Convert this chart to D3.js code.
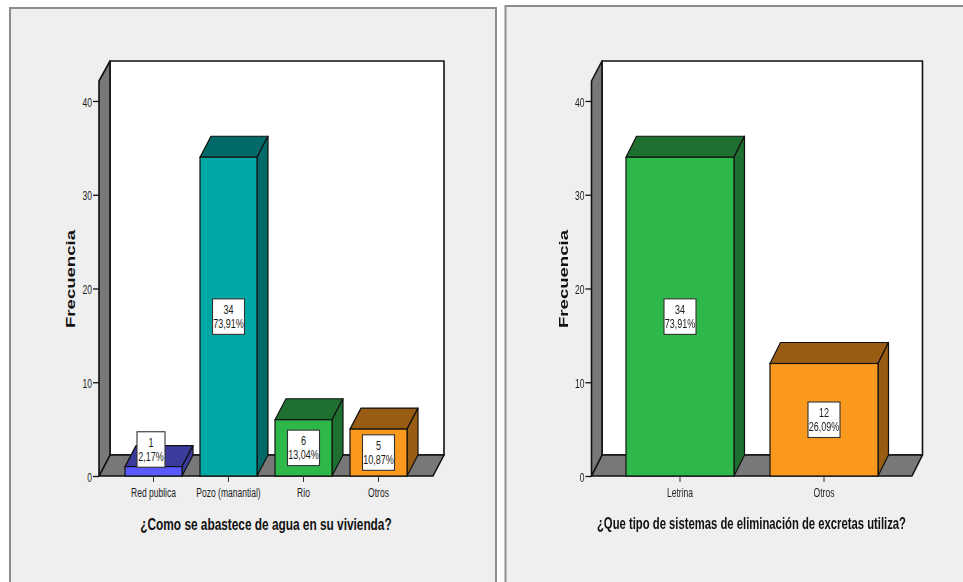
<!DOCTYPE html>
<html><head><meta charset="utf-8">
<script src="https://cdn.jsdelivr.net/npm/d3@7"></script>
<style>
html,body{margin:0;padding:0;background:#fff;overflow:hidden}
svg{display:block;filter:blur(0.4px)}
text{fill:#1c1c1c}
.tick text{font-family:"Liberation Sans",sans-serif;font-size:12.5px}
.lab{font-family:"Liberation Sans",sans-serif;font-size:12.5px}
.xt{font-family:"Liberation Sans",sans-serif;font-size:16px;font-weight:bold;fill:#111}
.yt{font-family:"Liberation Sans",sans-serif;font-size:12px;font-weight:bold;fill:#111}
</style></head><body>
<svg id="c" width="963" height="582"></svg>
<script>
const tickValues = [0, 10, 20, 30, 40];
const yAxisTitle = "Frecuencia";

const categoriesA = ["Red publica", "Pozo (manantial)", "Rio", "Otros"];
const valuesA = [1, 34, 6, 5];
const percentsA = ["2,17%", "73,91%", "13,04%", "10,87%"];
const frontColorsA = ["#5a5aff", "#00a8a5", "#2fb84a", "#fb991e"];
const darkColorsA = ["#3b3b9e", "#006a68", "#1d7030", "#985c12"];
const titleA = "¿Como se abastece de agua en su vivienda?";

const categoriesB = ["Letrina", "Otros"];
const valuesB = [34, 12];
const percentsB = ["73,91%", "26,09%"];
const frontColorsB = ["#2fb84a", "#fb991e"];
const darkColorsB = ["#1d7030", "#985c12"];
const titleB = "¿Que tipo de sistemas de eliminación de excretas utiliza?";

const svg = d3.select("#c");

// condense text horizontally, since the source uses a narrow face
function narrow(sel, k) {
  sel.each(function () {
    const n = this.getComputedTextLength();
    d3.select(this).attr("textLength", n * k).attr("lengthAdjust", "spacingAndGlyphs");
  });
  return sel;
}

function panel(o) {
  svg.append("rect").attr("x", o.fx).attr("y", o.fy).attr("width", o.fw).attr("height", 620)
    .attr("fill", "#efefef").attr("stroke", "#8c8c8c").attr("stroke-width", 2);

  const g = svg.append("g");
  const yMax = 42.13;
  const y = d3.scaleLinear().domain([0, yMax]).range([476, 81]);
  const x = d3.scaleBand().domain(o.cats).range(o.band).paddingInner(o.pad).paddingOuter(o.pad / 2);
  const dx = o.dx, dy = 21;
  const L = o.left, R = o.right, y0 = y(0), yT = y(yMax);
  const line = d3.line();
  const poly = (pts, fill, sw) => g.append("path").attr("d", line(pts) + "Z").attr("fill", fill)
    .attr("stroke", "#111").attr("stroke-width", sw).attr("stroke-linejoin", "round");

  poly([[L + dx, y0 - dy], [L + dx, yT - dy + 1], [R + dx, yT - dy + 1], [R + dx, y0 - dy]], "#fff", 1.6);
  poly([[L, y0], [L + dx, y0 - dy], [R + dx, y0 - dy], [R, y0]], "#787878", 1.6);
  poly([[L, y0], [L + dx, y0 - dy], [L + dx, yT - dy + 1], [L, yT]], "#787878", 1.6);

  o.cats.forEach((c, i) => {
    const x0 = x(c), x1 = x0 + x.bandwidth(), top = y(o.vals[i]);
    poly([[x0, top], [x0 + dx, top - dy], [x1 + dx, top - dy], [x1, top]], o.dark[i], 1.2);
    poly([[x1, top], [x1 + dx, top - dy], [x1 + dx, y0 - dy], [x1, y0]], o.dark[i], 1.2);
    g.append("rect").attr("x", x0).attr("y", top).attr("width", x.bandwidth()).attr("height", y0 - top)
      .attr("fill", o.front[i]).attr("stroke", "#111").attr("stroke-width", 1.2);
  });

  const ya = g.append("g").attr("transform", `translate(${L},0)`)
    .call(d3.axisLeft(y).tickValues(tickValues).tickSize(6).tickPadding(1).tickFormat(d3.format("d")));
  ya.select(".domain").remove();
  ya.selectAll(".tick line").attr("stroke", "#111").attr("stroke-width", 1.3);
  ya.selectAll(".tick text").attr("dy", "0.42em").call(narrow, 0.68);
  const xa = g.append("g").attr("transform", `translate(0,${y0})`)
    .call(d3.axisBottom(x).tickSize(6).tickPadding(6));
  xa.select(".domain").remove();
  xa.selectAll(".tick line").attr("stroke", "#333");
  xa.selectAll(".tick text").call(narrow, 0.68);

  const bw = 32, bh = 35.5;
  o.cats.forEach((c, i) => {
    const small = (y0 - y(o.vals[i])) < bh;
    const cx = x(c) + x.bandwidth() / 2 + (small ? -2.5 : 0);
    const cy = small ? y0 - 26.5 : y(o.vals[i] / 2);
    const w = small ? 28 : bw;
    g.append("rect").attr("x", cx - w / 2).attr("y", cy - bh / 2).attr("width", w).attr("height", bh)
      .attr("fill", "#fff").attr("stroke", "#333").attr("stroke-width", 1.1);
    g.append("text").attr("class", "lab").attr("x", cx).attr("y", cy - 2.5).attr("text-anchor", "middle")
      .text(o.vals[i]).call(narrow, 0.72);
    g.append("text").attr("class", "lab").attr("x", cx).attr("y", cy + 11).attr("text-anchor", "middle")
      .text(o.pcts[i]).call(narrow, 0.72);
  });

  svg.append("text").attr("class", "xt").attr("x", o.titleX).attr("y", o.titleY).attr("text-anchor", "middle")
    .text(o.title).call(narrow, o.titleK);
  svg.append("text").attr("class", "yt").attr("text-anchor", "middle")
    .attr("transform", `translate(${o.ytX},279) rotate(-90)`)
    .attr("textLength", 98).attr("lengthAdjust", "spacingAndGlyphs").text(yAxisTitle);
}

panel({fx: 10, fy: 8, fw: 486, cats: categoriesA, vals: valuesA, pcts: percentsA, front: frontColorsA, dark: darkColorsA,
  band: [116, 416], pad: 0.24, left: 99, right: 433, dx: 11, title: titleA, titleX: 266, titleY: 530, titleK: 0.74, ytX: 75});
panel({fx: 505.5, fy: 6, fw: 480, cats: categoriesB, vals: valuesB, pcts: percentsB, front: frontColorsB, dark: darkColorsB,
  band: [608, 896], pad: 0.25, left: 591.5, right: 912, dx: 10.5, title: titleB, titleX: 751.5, titleY: 529, titleK: 0.705, ytX: 568});
</script></body></html>
